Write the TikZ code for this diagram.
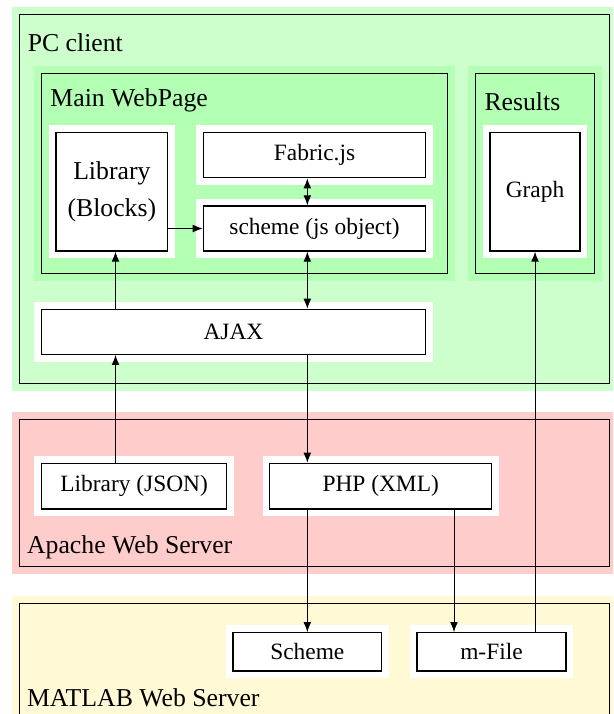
\documentclass[tikz,border=0pt]{standalone}
\usepackage{fontspec}
\setmainfont{Liberation Serif}
\usepackage{tikz}
\usetikzlibrary{calc, arrows.meta}
\definecolor{pcgreen}{RGB}{204,255,204}
\definecolor{webgreen}{RGB}{179,255,179}
\definecolor{apachered}{RGB}{255,204,204}
\definecolor{matlabyellow}{RGB}{255,249,214}
\tikzset{%
  zone/.style={draw, fill=#1, preaction={draw=#1, line width=6.2pt},
               inner sep=0pt, line width=0.5pt},
  block/.style={zone=white, align=center},
  title/.style={anchor=base west, inner sep=0pt, font=\fontsize{11}{13}\selectfont},
  flow/.style={-{Latex[length=4.3pt,width=3.3pt]}},
  bothway/.style={{Latex[length=4.3pt,width=3.3pt]}-{Latex[length=4.3pt,width=3.3pt]}},
}

\begin{document}
\begin{tikzpicture}

    % frame of the picture
    \useasboundingbox (0,0) rectangle (9.207,-10.724);
    \clip (0,0) rectangle (9.207,-10.724);

    % the three servers
    \node[zone=pcgreen, minimum width=8.859cm, minimum height=5.536cm] (pc) at (4.7225,-2.989) {};
    \node[zone=apachered, minimum width=8.859cm, minimum height=2.211cm] (apache) at (4.7225,-7.4065) {};
    \node[zone=matlabyellow, minimum width=8.859cm, minimum height=2.138cm] (matlab) at (4.7225,-10.131) {};

    % pages of the client
    \node[zone=webgreen, minimum width=6.098cm, minimum height=3.004cm] (mainpage) at (3.669,-2.603) {};
    \node[zone=webgreen, minimum width=1.787cm, minimum height=3.004cm] (results) at (8.0385,-2.603) {};

    \node[title] (pctitle) at (0.41,-0.777) {PC client};
    \node[title] (maintitle) at (0.751,-1.592) {Main WebPage};
    \node[title] (restitle) at (7.27,-1.667) {Results};
    \node[title] (apachetitle) at (0.40,-8.306) {Apache Web Server};
    \node[title] (matlabtitle) at (0.40,-10.615) {MATLAB Web Server};

    % blocks
    \node[block, minimum width=1.678cm, minimum height=1.783cm, font=\fontsize{11}{15.8}\selectfont] (libblocks) at (1.680,-2.879) {Library\\(Blocks)};
    \node[block, minimum width=3.34cm, minimum height=0.682cm] (fabric) at (4.724,-2.328) {Fabric.js};
    \node[block, minimum width=3.34cm, minimum height=0.676cm] (jsscheme) at (4.724,-3.432) {scheme (js object)};
    \node[block, minimum width=1.352cm, minimum height=1.783cm] (graph) at (8.036,-2.879) {Graph};
    \node[block, minimum width=5.771cm, minimum height=0.676cm] (ajax) at (3.506,-4.984) {AJAX};
    \node[block, minimum width=2.784cm, minimum height=0.686cm] (libjson) at (2.015,-7.302) {Library (JSON)};
    \node[block, minimum width=3.332cm, minimum height=0.686cm] (php) at (5.718,-7.302) {PHP (XML)};
    \node[block, minimum width=2.233cm, minimum height=0.575cm] (mscheme) at (4.616,-9.791) {Scheme};
    \node[block, minimum width=2.238cm, minimum height=0.575cm] (mfile) at (7.382,-9.791) {m-File};

    % connections
    \coordinate (libx) at ([xshift=0.055cm]libblocks.south);
    \coordinate (mfilein) at ([xshift=-0.563cm]mfile.north);
    \draw[flow] (libblocks.east |- jsscheme.west) -- (jsscheme.west);
    \draw[bothway] (fabric.south -| mscheme) -- (jsscheme.north -| mscheme);
    \draw[bothway] (jsscheme.south -| mscheme) -- (ajax.north -| mscheme);
    \draw[flow] (ajax.north -| libx) -- (libx);
    \draw[flow] (libjson.north -| libx) -- (ajax.south -| libx);
    \draw[flow] (ajax.south -| mscheme) -- (php.north -| mscheme);
    \draw[flow] (php.south -| mscheme) -- (mscheme.north);
    \draw[flow] (php.south -| mfilein) -- (mfilein);
    \draw[flow] (mfile.north -| graph) -- (graph.south);

\end{tikzpicture}
\end{document}
